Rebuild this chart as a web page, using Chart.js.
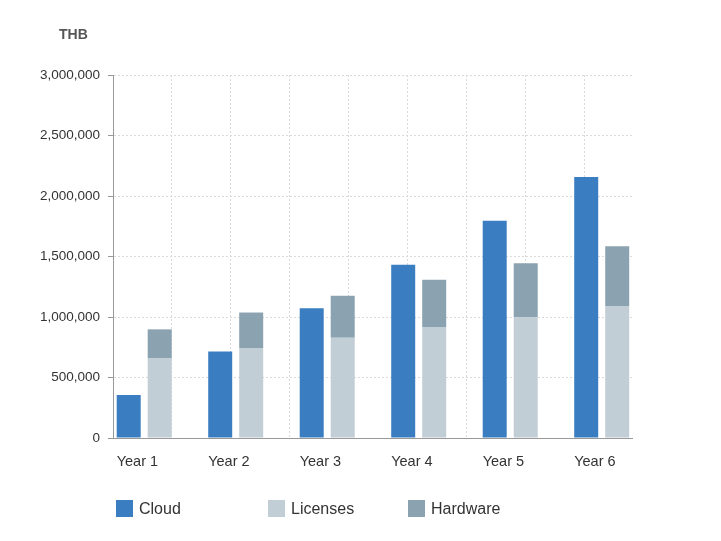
<!DOCTYPE html>
<html>
<head>
<meta charset="utf-8">
<script src="https://cdn.jsdelivr.net/npm/chart.js@4"></script>
<style>
  body { margin: 0; background: #fff; font-family: Arial, "Liberation Sans", sans-serif; }
  #wrap { position: relative; width: 721px; height: 541px; }
  .legitem { position: absolute; top: 500px; height: 17px; display: flex; align-items: center; font-size: 16px; color: #333; }
  .legbox { width: 17px; height: 17px; margin-right: 6px; }
</style>
</head>
<body>
<div id="wrap">
  <canvas id="myChart" width="721" height="541"></canvas>
  <div id="legend"></div>
</div>
<script>
const years = ['Year 1', 'Year 2', 'Year 3', 'Year 4', 'Year 5', 'Year 6']
const cloud = [355000, 715000, 1072000, 1432000, 1796000, 2156000]
const licenses = [657000, 744000, 828000, 917000, 997000, 1091000]
const hardware = [241000, 293000, 348000, 391000, 447000, 493000]
const yTicks = [0, 500000, 1000000, 1500000, 2000000, 2500000, 3000000]
const unit = 'THB'

const colors = {Cloud: '#3a7ec1', Licenses: '#c2ced6', Hardware: '#8ba2b0'}

function points(values){
    var out = []
    for (let i = 0; i < values.length; i++) {
        out.push({x: i, y: values[i]})
    }
    return out
}

function makeLegend(names){
    var lefts = [116, 268, 408]
    var html = ''
    for (let i = 0; i < names.length; i++) {
        html += '<div class="legitem" style="left:' + lefts[i] + 'px">' +
            '<div class="legbox" style="background:' + colors[names[i]] + '"></div>' + names[i] + '</div>'
    }
    document.getElementById('legend').innerHTML = html
}

const unitLabel = {
    id: 'unitLabel',
    afterDraw(chart){
        const ctx = chart.ctx
        ctx.save()
        ctx.font = 'bold 14px Arial, "Liberation Sans", sans-serif'
        ctx.fillStyle = '#555'
        ctx.textBaseline = 'alphabetic'
        ctx.fillText(unit, 59, 39)
        ctx.restore()
    }
}

const ctx = document.getElementById('myChart')

const myChart = new Chart(ctx, {
    type: 'bar',
    data: {
        datasets: [
            {label: 'Cloud', data: points(cloud), stack: 'a', backgroundColor: colors.Cloud},
            {label: 'Licenses', data: points(licenses), stack: 'b', backgroundColor: colors.Licenses},
            {label: 'Hardware', data: points(hardware), stack: 'b', backgroundColor: colors.Hardware}
        ]
    },
    options: {
        responsive: false,
        animation: false,
        categoryPercentage: 0.6776,
        barPercentage: 0.774,
        layout: {padding: {left: 0, right: 89, top: 75, bottom: 0}},
        plugins: {
            legend: {display: false},
            tooltip: {enabled: false}
        },
        scales: {
            x: {
                type: 'linear',
                stacked: true,
                offset: false,
                min: -0.341,
                max: 5.331,
                afterFit: function(s){ s.height = 103 },
                grid: {display: false, offset: false},
                border: {display: true, color: '#999', width: 1},
                ticks: {
                    stepSize: 1,
                    includeBounds: false,
                    autoSkip: false,
                    maxRotation: 0,
                    align: 'start',
                    labelOffset: -27.5,
                    padding: 7,
                    color: '#333',
                    font: {family: 'Arial, "Liberation Sans", sans-serif', size: 14.5},
                    callback: function(v){ return years[v] }
                }
            },
            xg: {
                type: 'linear',
                position: 'bottom',
                offset: false,
                min: -0.981,
                max: 7.795,
                afterFit: function(s){ s.height = 0 },
                grid: {display: true, offset: false, color: '#dadada', drawTicks: false},
                border: {display: false, dash: [2, 2]},
                ticks: {display: false, stepSize: 1, includeBounds: false}
            },
            y: {
                stacked: true,
                min: 0,
                max: 3000000,
                afterFit: function(s){ s.width = 113 },
                afterBuildTicks: function(s){ s.ticks = yTicks.map(v => ({value: v})) },
                grid: {color: '#dadada', tickColor: '#999', tickLength: 5, tickBorderDash: []},
                border: {display: true, color: '#999', width: 1, dash: [2, 2]},
                ticks: {
                    padding: 8,
                    color: '#333',
                    font: {family: 'Arial, "Liberation Sans", sans-serif', size: 13.5},
                    callback: function(v){ return v.toLocaleString('en-US') }
                }
            }
        }
    },
    plugins: [unitLabel]
});

makeLegend(['Cloud', 'Licenses', 'Hardware'])
</script>
</body>
</html>
